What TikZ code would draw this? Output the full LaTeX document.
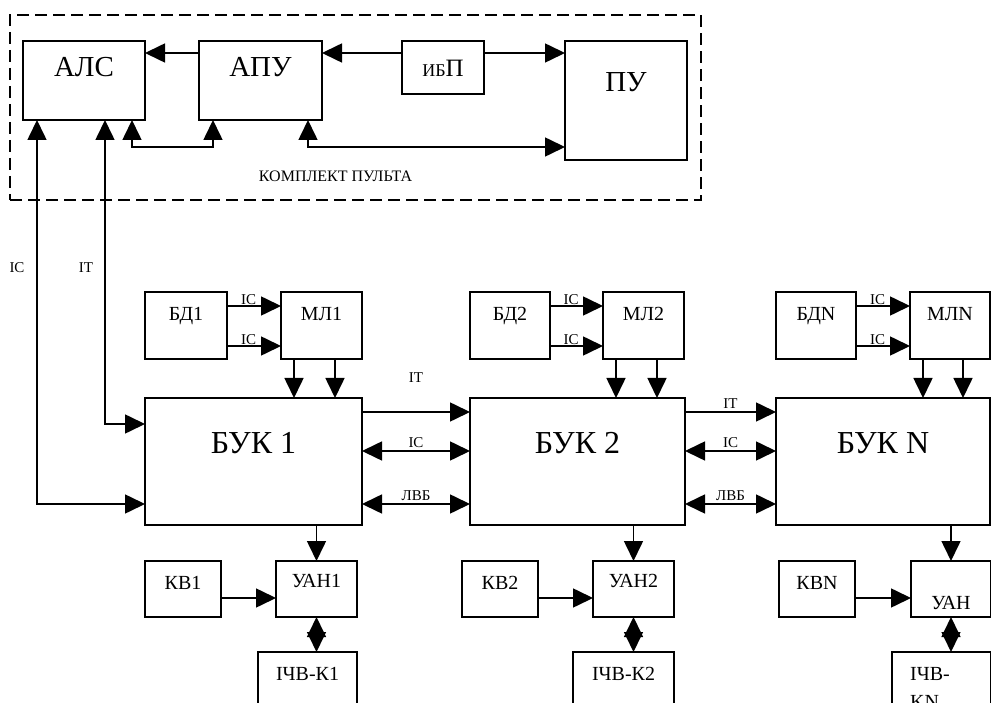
\documentclass[tikz,border=0pt]{standalone}
\usepackage{fontspec}
\setmainfont{Liberation Serif}
\usetikzlibrary{arrows.meta}
\tikzset{
    blk/.style={draw, line width=1.6pt, inner sep=0pt, outer sep=0pt}, % блок схемы
    blkb/.style={blk, line width=2.6pt}, % нижние блоки (КВ, УАН, ПЧВ)
    kitbox/.style={draw, line width=1.6pt, dash pattern=on 12pt off 6pt, inner sep=0pt, outer sep=0pt},
    intext/.style={anchor=base, yshift=-#1}, % надпись внутри блока, сверху
    bigtxt/.style={font=\fontsize{29}{34}\selectfont},
    buktxt/.style={font=\fontsize{32}{38}\selectfont},
    midtxt/.style={font=\fontsize{20}{24}\selectfont},
    lbl/.style={font=\fontsize{15}{17}\selectfont, inner sep=1pt}
}

\begin{document}
\begin{tikzpicture}[x=1pt, y=-1pt, line width=1.6pt, >={Triangle[length=20pt, width=19pt]}]
    \useasboundingbox (0,0) rectangle (991,703);

    % --- комплект пульта ---
    \node[kitbox, minimum width=691pt, minimum height=185pt,
          label={[lbl, font=\fontsize{16}{19}\selectfont, anchor=base, xshift=-20pt, yshift=18pt]south:КОМПЛЕКТ ПУЛЬТА}] (kit) at (355.5,107.5) {};
    \node[blk, minimum width=122pt, minimum height=79pt, label={[bigtxt, intext=36pt]north:АЛС}] (als) at (84,80.5) {};
    \node[blk, minimum width=123pt, minimum height=79pt, label={[bigtxt, intext=36pt]north:АПУ}] (apu) at (260.5,80.5) {};
    \node[blk, minimum width=82pt, minimum height=53pt,
          label={[font=\fontsize{25}{28}\selectfont, intext=36pt]north:{{\fontsize{18}{20}\selectfont ИБ}П}}] (ibp) at (443,67.5) {};
    \node[blk, minimum width=122pt, minimum height=119pt, label={[bigtxt, intext=51pt]north:ПУ}] (pu) at (626,100.5) {};

    \draw[->] ([yshift=-12pt]apu.north west) -- ([yshift=-12pt]als.north east);
    \draw[->] ([yshift=-12pt]ibp.north west) -- ([yshift=-12pt]apu.north east);
    \draw[->] ([yshift=-12pt]ibp.north east) -- ([yshift=-12pt]pu.north west);
    \draw[<->] ([xshift=-13pt]als.south east) -- ++(0,27) -| ([xshift=14pt]apu.south west);
    \draw[<->] ([xshift=-14pt]apu.south east) |- ([yshift=13pt]pu.south west);

    % --- блоки БД, МЛ, БУК ---
    \node[blk, minimum width=82pt, minimum height=67pt, label={[midtxt, intext=29pt]north:БД1}] (bd1) at (186,325.5) {};
    \node[blk, minimum width=81pt, minimum height=67pt, label={[midtxt, intext=29pt]north:МЛ1}] (ml1) at (321.5,325.5) {};
    \node[blk, minimum width=217pt, minimum height=127pt, label={[buktxt, intext=55pt]north:БУК 1}] (buk1) at (253.5,461.5) {};

    \node[blk, minimum width=80pt, minimum height=67pt, label={[midtxt, intext=29pt]north:БД2}] (bd2) at (510,325.5) {};
    \node[blk, minimum width=81pt, minimum height=67pt, label={[midtxt, intext=29pt]north:МЛ2}] (ml2) at (643.5,325.5) {};
    \node[blk, minimum width=215pt, minimum height=127pt, label={[buktxt, intext=55pt]north:БУК 2}] (buk2) at (577.5,461.5) {};

    \node[blk, minimum width=80pt, minimum height=67pt, label={[midtxt, intext=29pt]north:БДN}] (bdN) at (816,325.5) {};
    \node[blk, minimum width=80pt, minimum height=67pt, label={[midtxt, intext=29pt]north:МЛN}] (mlN) at (950,325.5) {};
    \node[blk, minimum width=214pt, minimum height=127pt, label={[buktxt, intext=55pt]north:БУК N}] (bukN) at (883,461.5) {};

    % --- блоки КВ, УАН, ПЧВ ---
    \node[blkb, minimum width=76pt, minimum height=56pt, label={[midtxt, intext=28pt]north:КВ1}] (kv1) at (183,589) {};
    \node[blkb, minimum width=81pt, minimum height=56pt, label={[midtxt, intext=26pt]north:УАН1}] (uan1) at (316.5,589) {};
    \node[blkb, minimum width=99pt, minimum height=100pt, label={[midtxt, intext=28pt]north:IЧВ-К1}] (pchv1) at (307.5,702) {};

    \node[blkb, minimum width=76pt, minimum height=56pt, label={[midtxt, intext=28pt]north:КВ2}] (kv2) at (500,589) {};
    \node[blkb, minimum width=81pt, minimum height=56pt, label={[midtxt, intext=26pt]north:УАН2}] (uan2) at (633.5,589) {};
    \node[blkb, minimum width=101pt, minimum height=100pt, label={[midtxt, intext=28pt]north:IЧВ-К2}] (pchv2) at (623.5,702) {};

    \node[blkb, minimum width=76pt, minimum height=56pt, label={[midtxt, intext=28pt]north:КВN}] (kvN) at (817,589) {};
    \node[blkb, minimum width=80pt, minimum height=56pt, label={[midtxt, intext=48pt]north:УАН}] (uanN) at (951,589) {};
    \node[blkb, minimum width=99pt, minimum height=100pt,
          label={[midtxt, anchor=base west, xshift=14pt, yshift=-28pt]north west:IЧВ-},
          label={[midtxt, anchor=base west, xshift=14pt, yshift=-56pt]north west:KN}] (pchvN) at (941.5,702) {};

    % --- связи пульта с БУК 1 ---
    \draw[<->] ([xshift=14pt]als.south west) |- ([yshift=-106pt]buk1.north west);
    \draw[<->] ([xshift=21pt]als.south) |- ([yshift=-26pt]buk1.north west);
    \node[lbl] (lic) at (17,268) {IC};
    \node[lbl] (lit) at (86,268) {IT};

    % --- связи внутри каждой группы ---
    \foreach \n in {1,2,N} {
        \draw[->] ([yshift=-14pt]bd\n.north east) -- ([yshift=-14pt]ml\n.north west) node[lbl, pos=0.4, above] {IC};
        \draw[->] ([yshift=-54pt]bd\n.north east) -- ([yshift=-54pt]ml\n.north west) node[lbl, pos=0.4, above] {IC};
        \draw[->] ([xshift=13pt]ml\n.south west) -- ([xshift=13pt]ml\n.south west |- buk\n.north);
        \draw[->] ([xshift=-27pt]ml\n.south east) -- ([xshift=-27pt]ml\n.south east |- buk\n.north);
        \draw[->] (uan\n.north |- buk\n.south) -- (uan\n.north);
        \draw[->] ([yshift=-37pt]kv\n.north east) -- ([yshift=-37pt]uan\n.north west);
        \draw[<->] (uan\n.south) -- (uan\n.south |- pchv\n.north);
    }

    % --- связи между БУК ---
    \foreach \a/\b/\h in {1/2/28pt, 2/N/2pt} {
        \draw[->] ([yshift=-14pt]buk\a.north east) -- ([yshift=-14pt]buk\b.north west) node[lbl, midway, above=\h] {IT};
        \draw[<->] ([yshift=-53pt]buk\a.north east) -- ([yshift=-53pt]buk\b.north west) node[lbl, midway, above=2pt] {IC};
        \draw[<->] ([yshift=-106pt]buk\a.north east) -- ([yshift=-106pt]buk\b.north west) node[lbl, midway, above=2pt] {ЛВБ};
    }
\end{tikzpicture}
\end{document}
